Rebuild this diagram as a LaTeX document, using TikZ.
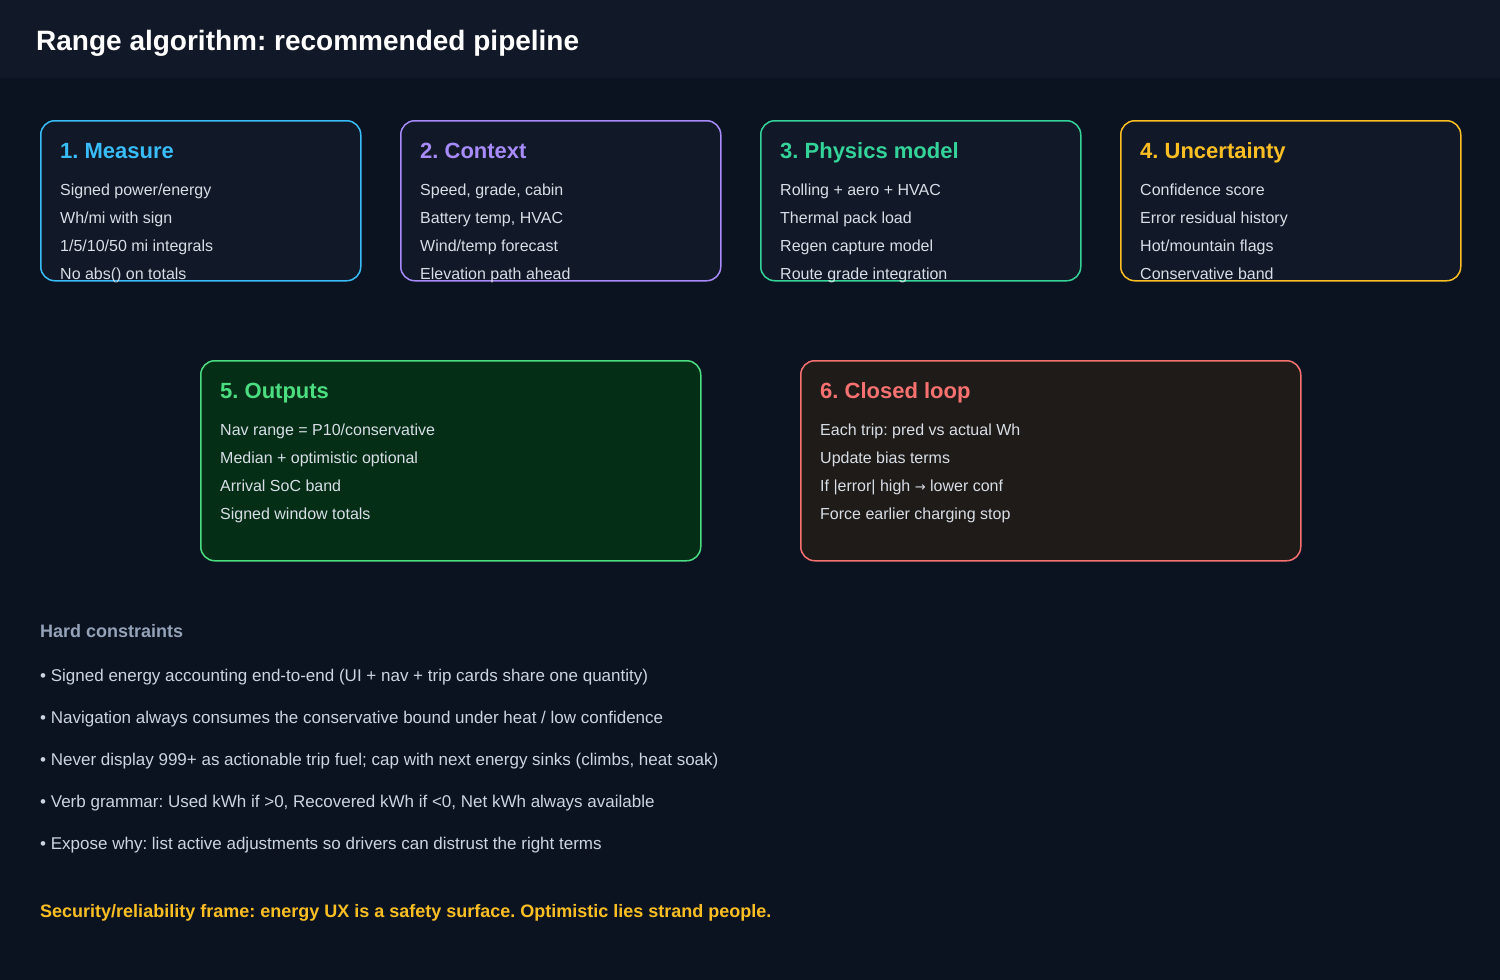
\documentclass[tikz,border=0pt]{standalone}
\usepackage{fontspec}
\setmainfont{Liberation Sans}
\newfontfamily\arrowfont{DejaVu Sans}
\usetikzlibrary{positioning}
\frenchspacing

\definecolor{pagebg}{HTML}{0B1220}
\definecolor{bandbg}{HTML}{111827}
\definecolor{cardbg}{HTML}{111827}
\definecolor{outbg}{HTML}{052E16}
\definecolor{loopbg}{HTML}{1F1B18}
\definecolor{measurec}{HTML}{38BDF8}
\definecolor{contextc}{HTML}{A78BFA}
\definecolor{physicsc}{HTML}{34D399}
\definecolor{uncertc}{HTML}{FBBF24}
\definecolor{outputc}{HTML}{4ADE80}
\definecolor{loopc}{HTML}{F87171}
\definecolor{itemtxt}{HTML}{D8DEE6}
\definecolor{ruletxt}{HTML}{CBD5E1}
\definecolor{rulehead}{HTML}{94A3B8}

\begin{document}
\begin{tikzpicture}[x=1pt,y=-1pt,
  card/.style={draw,line width=1.5pt,rounded corners=14pt,anchor=north west,inner sep=0pt},
  head/.style={anchor=base west,inner sep=0pt,font=\fontsize{22}{26}\selectfont\bfseries},
  item/.style={anchor=base west,inner sep=0pt,text=itemtxt,font=\fontsize{16}{19}\selectfont},
  rule/.style={anchor=base west,inner sep=0pt,text=ruletxt,font=\fontsize{17}{20}\selectfont}]
\fill[pagebg] (0,0) rectangle (1500,980);
\useasboundingbox (0,0) rectangle (1500,980);
\fill[bandbg] (0,0) rectangle (1500,78);
\node[anchor=base west,inner sep=0pt,text=white,font=\fontsize{28}{32}\selectfont\bfseries] (title) at (36,50) {Range algorithm: recommended pipeline};

% top row
\node[card,draw=measurec,fill=cardbg,minimum width=320pt,minimum height=160pt] (measure) at (40,120) {};
\node[card,draw=contextc,fill=cardbg,minimum width=320pt,minimum height=160pt] (context) at (400,120) {};
\node[card,draw=physicsc,fill=cardbg,minimum width=320pt,minimum height=160pt] (physics) at (760,120) {};
\node[card,draw=uncertc,fill=cardbg,minimum width=340pt,minimum height=160pt] (uncert) at (1120,120) {};

\node[head,text=measurec] (measureT) at (60,158) {1. Measure};
\node[item] (measure1) at (60,195) {Signed power/energy};
\node[item] (measure2) at (60,223) {Wh/mi with sign};
\node[item] (measure3) at (60,251) {1/5/10/50 mi integrals};
\node[item] (measure4) at (60,279) {No abs() on totals};

\node[head,text=contextc] (contextT) at (420,158) {2. Context};
\node[item] (context1) at (420,195) {Speed, grade, cabin};
\node[item] (context2) at (420,223) {Battery temp, HVAC};
\node[item] (context3) at (420,251) {Wind/temp forecast};
\node[item] (context4) at (420,279) {Elevation path ahead};

\node[head,text=physicsc] (physicsT) at (780,158) {3. Physics model};
\node[item] (physics1) at (780,195) {Rolling + aero + HVAC};
\node[item] (physics2) at (780,223) {Thermal pack load};
\node[item] (physics3) at (780,251) {Regen capture model};
\node[item] (physics4) at (780,279) {Route grade integration};

\node[head,text=uncertc] (uncertT) at (1140,158) {4. Uncertainty};
\node[item] (uncert1) at (1140,195) {Confidence score};
\node[item] (uncert2) at (1140,223) {Error residual history};
\node[item] (uncert3) at (1140,251) {Hot/mountain flags};
\node[item] (uncert4) at (1140,279) {Conservative band};

% second row
\node[card,draw=outputc,fill=outbg,minimum width=500pt,minimum height=200pt] (output) at (200,360) {};
\node[card,draw=loopc,fill=loopbg,minimum width=500pt,minimum height=200pt] (loop) at (800,360) {};

\node[head,text=outputc] (outputT) at (220,398) {5. Outputs};
\node[item] (output1) at (220,435) {Nav range = P10/conservative};
\node[item] (output2) at (220,463) {Median + optimistic optional};
\node[item] (output3) at (220,491) {Arrival SoC band};
\node[item] (output4) at (220,519) {Signed window totals};

\node[head,text=loopc] (loopT) at (820,398) {6. Closed loop};
\node[item] (loop1) at (820,435) {Each trip: pred vs actual Wh};
\node[item] (loop2) at (820,463) {Update bias terms};
\node[item] (loop3) at (820,491) {If |error| high {\arrowfont\fontsize{13}{16}\selectfont →} lower conf};
\node[item] (loop4) at (820,519) {Force earlier charging stop};

% constraints
\node[anchor=base west,inner sep=0pt,text=rulehead,font=\fontsize{18}{21}\selectfont\bfseries] (rulesT) at (40,637) {Hard constraints};
\node[rule] (rule1) at (40,681) {• Signed energy accounting end-to-end (UI + nav + trip cards share one quantity)};
\node[rule] (rule2) at (40,723) {• Navigation always consumes the conservative bound under heat / low confidence};
\node[rule] (rule3) at (40,765) {• Never display 999+ as actionable trip fuel; cap with next energy sinks (climbs, heat soak)};
\node[rule] (rule4) at (40,807) {• Verb grammar: Used kWh if >0, Recovered kWh if <0, Net kWh always available};
\node[rule] (rule5) at (40,849) {• Expose why: list active adjustments so drivers can distrust the right terms};
\node[anchor=base west,inner sep=0pt,text=uncertc,font=\fontsize{18}{21}\selectfont\bfseries] (frame) at (40,917) {Security/reliability frame: energy UX is a safety surface. Optimistic lies strand people.};
\end{tikzpicture}
\end{document}
